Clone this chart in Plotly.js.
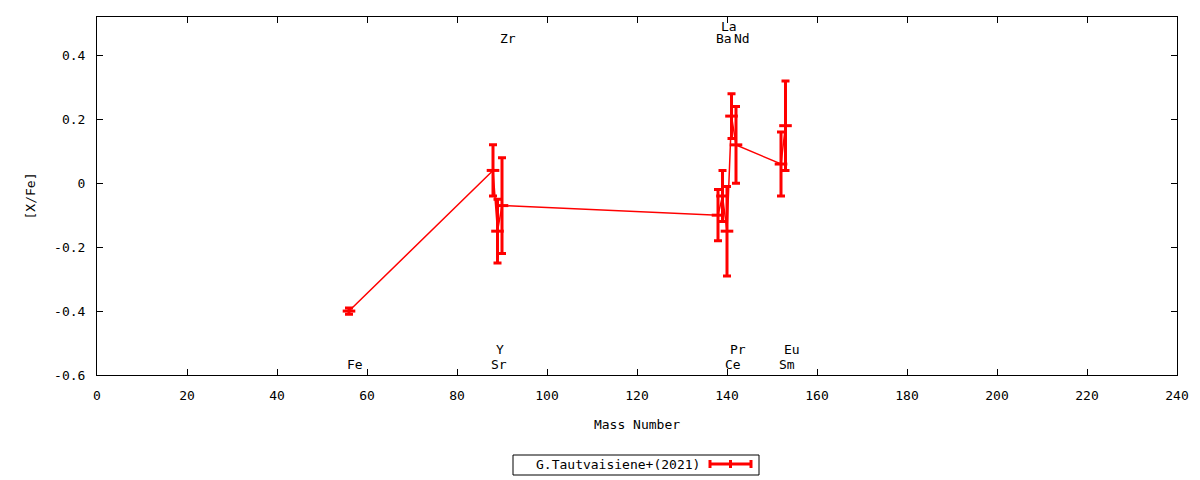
<!DOCTYPE html>
<html>
<head>
<meta charset="utf-8">
<script src="https://cdn.plot.ly/plotly-3.0.1.min.js"></script>
<style>html,body{margin:0;padding:0;background:#fff;}#chart{width:1200px;height:480px;}</style>
</head>
<body>
<div id="chart"></div>
<script>
// Data
const elements = ["Fe", "Sr", "Y", "Zr", "Ba", "La", "Ce", "Pr", "Nd", "Sm", "Eu"];
const massNumber = [56, 88, 89, 90, 138, 139, 140, 141, 142, 152, 153];
const xFe = [-0.40, 0.04, -0.15, -0.07, -0.10, -0.04, -0.15, 0.21, 0.12, 0.06, 0.18];
const xFeErr = [0.01, 0.08, 0.10, 0.15, 0.08, 0.08, 0.14, 0.07, 0.12, 0.10, 0.14];
const labelSide = ["bottom", "bottom", "bottom", "top", "top", "top", "bottom", "bottom", "top", "bottom", "bottom"];
const labelTier = [0, 0, 1, 0, 0, 1, 0, 1, 0, 0, 1];
const xTicks = [0, 20, 40, 60, 80, 100, 120, 140, 160, 180, 200, 220, 240];
const yTicks = [-0.6, -0.4, -0.2, 0, 0.2, 0.4];
const seriesName = "G.Tautvaisiene+(2021)";

const FONT = "DejaVu Sans Mono, monospace";
const RED = "#ff0000";

const trace = {
  x: massNumber,
  y: xFe,
  type: "scatter",
  mode: "lines+markers",
  line: {color: RED, width: 1.5},
  marker: {symbol: "line-ew", size: 9, color: RED, line: {color: RED, width: 3}},
  error_y: {type: "data", array: xFeErr, visible: true, color: RED, thickness: 3, width: 4},
  showlegend: false,
  hoverinfo: "x+y"
};

const labelY = {top: [0.453, 0.49], bottom: [-0.566, -0.519]};
const annotations = elements.map((el, i) => ({
  x: massNumber[i], y: labelY[labelSide[i]][labelTier[i]],
  xref: "x", yref: "y", text: el, showarrow: false,
  xanchor: "left", yanchor: "middle", xshift: -4,
  font: {family: FONT, size: 13, color: "#000"}
}));

// legend (custom, text left of sample like the reference)
const px2x = p => (p - 97) / 1080;
const px2y = p => (375 - p) / 358;
annotations.push({
  x: px2x(702), y: px2y(464), xref: "paper", yref: "paper",
  text: seriesName, showarrow: false, xanchor: "right", yanchor: "middle",
  font: {family: FONT, size: 13, color: "#000"}
});
const shapes = [
  {type: "rect", xref: "paper", yref: "paper", x0: px2x(513), x1: px2x(759), y0: px2y(475), y1: px2y(455), line: {color: "#000", width: 1}},
  {type: "line", xref: "paper", yref: "paper", x0: px2x(709), x1: px2x(752), y0: px2y(464), y1: px2y(464), line: {color: RED, width: 3}},
  {type: "line", xref: "paper", yref: "paper", x0: px2x(710), x1: px2x(710), y0: px2y(460), y1: px2y(468), line: {color: RED, width: 3}},
  {type: "line", xref: "paper", yref: "paper", x0: px2x(751), x1: px2x(751), y0: px2y(460), y1: px2y(468), line: {color: RED, width: 3}},
  {type: "line", xref: "paper", yref: "paper", x0: px2x(730.5), x1: px2x(730.5), y0: px2y(460), y1: px2y(468), line: {color: RED, width: 3}}
];

const layout = {
  width: 1200, height: 480,
  margin: {l: 97, r: 23, t: 17, b: 105},
  paper_bgcolor: "#fff", plot_bgcolor: "#fff",
  font: {family: FONT, size: 13, color: "#000"},
  showlegend: false,
  xaxis: {
    range: [0, 240], tickvals: xTicks, ticktext: xTicks.map(String),
    ticks: "inside", ticklen: 6, tickcolor: "#000", tickwidth: 1,
    showline: true, linecolor: "#000", linewidth: 1, mirror: "ticks",
    showgrid: false, zeroline: false,
    ticklabelstandoff: 8,
    title: {text: "Mass Number", font: {family: FONT, size: 13}, standoff: 18}
  },
  yaxis: {
    range: [-0.6, 0.52], tickvals: yTicks, ticktext: yTicks.map(v => String(v)),
    ticks: "inside", ticklen: 6, tickcolor: "#000", tickwidth: 1,
    showline: true, linecolor: "#000", linewidth: 1, mirror: "ticks",
    showgrid: false, zeroline: false,
    ticklabelstandoff: 8,
    title: {text: "[X/Fe]", font: {family: FONT, size: 13}, standoff: 15}
  },
  annotations: annotations,
  shapes: shapes
};

Plotly.newPlot("chart", [trace], layout, {displayModeBar: false, staticPlot: true});
</script>
</body>
</html>
